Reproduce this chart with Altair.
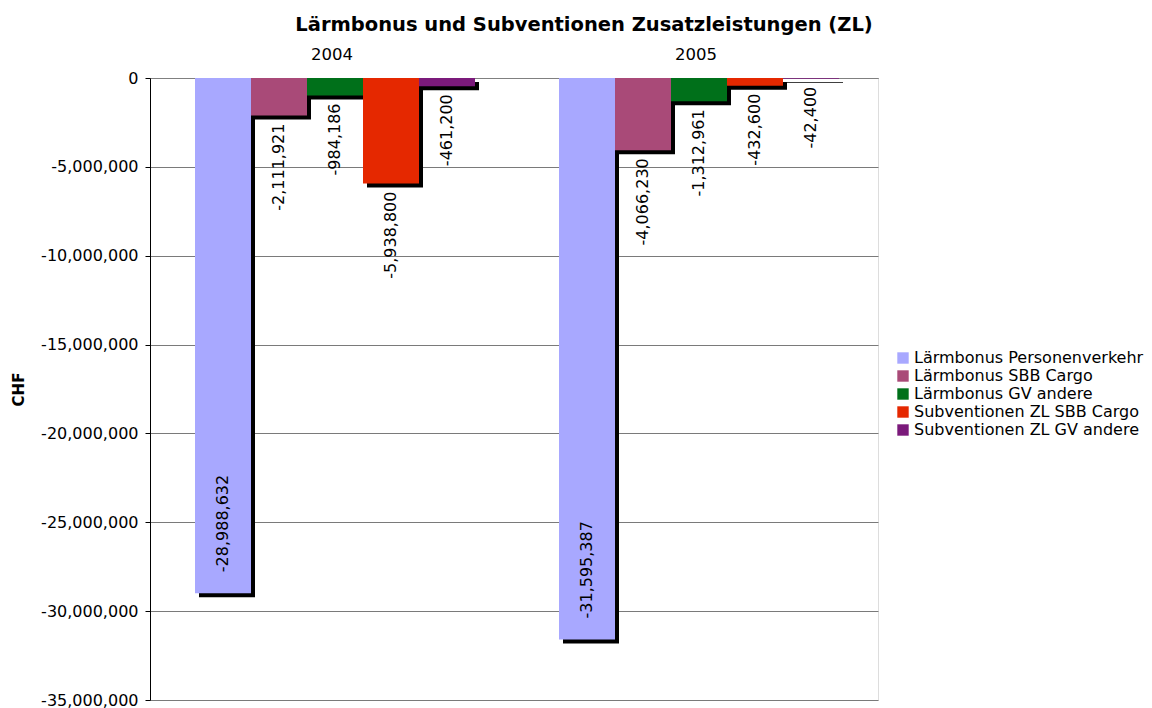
import altair as alt
import pandas as pd

years = ["2004", "2005"]
series = [
    "Lärmbonus Personenverkehr",
    "Lärmbonus SBB Cargo",
    "Lärmbonus GV andere",
    "Subventionen ZL SBB Cargo",
    "Subventionen ZL GV andere",
]
values_2004 = [-28988632, -2111921, -984186, -5938800, -461200]
values_2005 = [-31595387, -4066230, -1312961, -432600, -42400]
colors = ["#A8A8FF", "#A94A78", "#00701A", "#E52800", "#7B1A7B"]
y_ticks = [0, -5000000, -10000000, -15000000, -20000000, -25000000, -30000000, -35000000]

rows = []
for yr, vals in zip(years, [values_2004, values_2005]):
    for s, v in zip(series, vals):
        rows.append({"year": yr, "series": s, "value": v})
df = pd.DataFrame(rows)

FONT = "DejaVu Sans"
MINUS_FIX = "replace(format(datum.value, ','), '\u2212', '-')"

x_enc = alt.X(
    "year:N",
    scale=alt.Scale(domain=years, paddingInner=0, paddingOuter=0),
    axis=alt.Axis(
        orient="top", title=None, labelAngle=0, ticks=False, tickSize=0,
        labelPadding=16, labelFontSize=16.5, labelFont=FONT, labelColor="black",
        domainColor="#808080", grid=False,
    ),
)
y_enc = alt.Y(
    "value:Q",
    scale=alt.Scale(domain=[-35000000, 0], nice=False, zero=False),
    axis=alt.Axis(
        values=y_ticks, title="CHF", labelExpr=MINUS_FIX,
        labelFontSize=16, labelFont=FONT, labelColor="black", labelPadding=7,
        tickColor="black", tickSize=5, domainColor="black",
        grid=True, gridColor="#7a7a7a",
        titleFont=FONT, titleFontSize=15, titleFontWeight="bold", titleColor="black",
        titleAngle=270, titleX=-132, titleY=311, titleAlign="center", titleBaseline="middle",
    ),
)


def xoff(rng):
    return alt.XOffset(
        "series:N",
        scale=alt.Scale(type="band", domain=series, range=rng, paddingInner=0, paddingOuter=0),
    )


base = alt.Chart(df).transform_calculate(label=MINUS_FIX)

shadow = base.mark_bar(color="black", yOffset=4, y2Offset=4).encode(
    x=x_enc, xOffset=xoff([49, 329]), y=y_enc
)

bars = base.mark_bar().encode(
    x=x_enc,
    xOffset=xoff([45, 325]),
    y=y_enc,
    color=alt.Color(
        "series:N",
        scale=alt.Scale(domain=series, range=colors),
        legend=alt.Legend(
            title=None, orient="none", legendX=745, legendY=272,
            symbolType="square", symbolSize=130, symbolStrokeWidth=0,
            labelFontSize=16, labelFont=FONT, labelColor="black",
            labelOffset=3, labelLimit=500, rowPadding=2,
        ),
    ),
)

outside = base.transform_filter(alt.datum.series != series[0]).mark_text(
    angle=270, align="right", baseline="middle", dx=-8,
    fontSize=16, font=FONT, color="black",
).encode(x=x_enc, xOffset=xoff([45, 325]), y=y_enc, text="label:N")

inside = base.transform_filter(alt.datum.series == series[0]).mark_text(
    angle=270, align="left", baseline="middle", dx=21,
    fontSize=16, font=FONT, color="black",
).encode(x=x_enc, xOffset=xoff([45, 325]), y=y_enc, text="label:N")

chart = (
    alt.layer(shadow, bars, outside, inside)
    .resolve_scale(xOffset="independent")
    .properties(
        width=728,
        height=622,
        autosize=alt.AutoSizeParams(type="none"),
        padding={"left": 142, "top": 70, "right": 266, "bottom": 8},
        title=alt.TitleParams(
            "Lärmbonus und Subventionen Zusatzleistungen (ZL)",
            font=FONT, fontSize=19.5, fontWeight="bold", color="black",
            anchor="middle", dx=70, dy=-7,
        ),
    )
    .configure_view(stroke="#808080", strokeWidth=1)
    .configure(background="white")
)

chart.save("out.html", embed_options={"renderer": "svg", "actions": False})
